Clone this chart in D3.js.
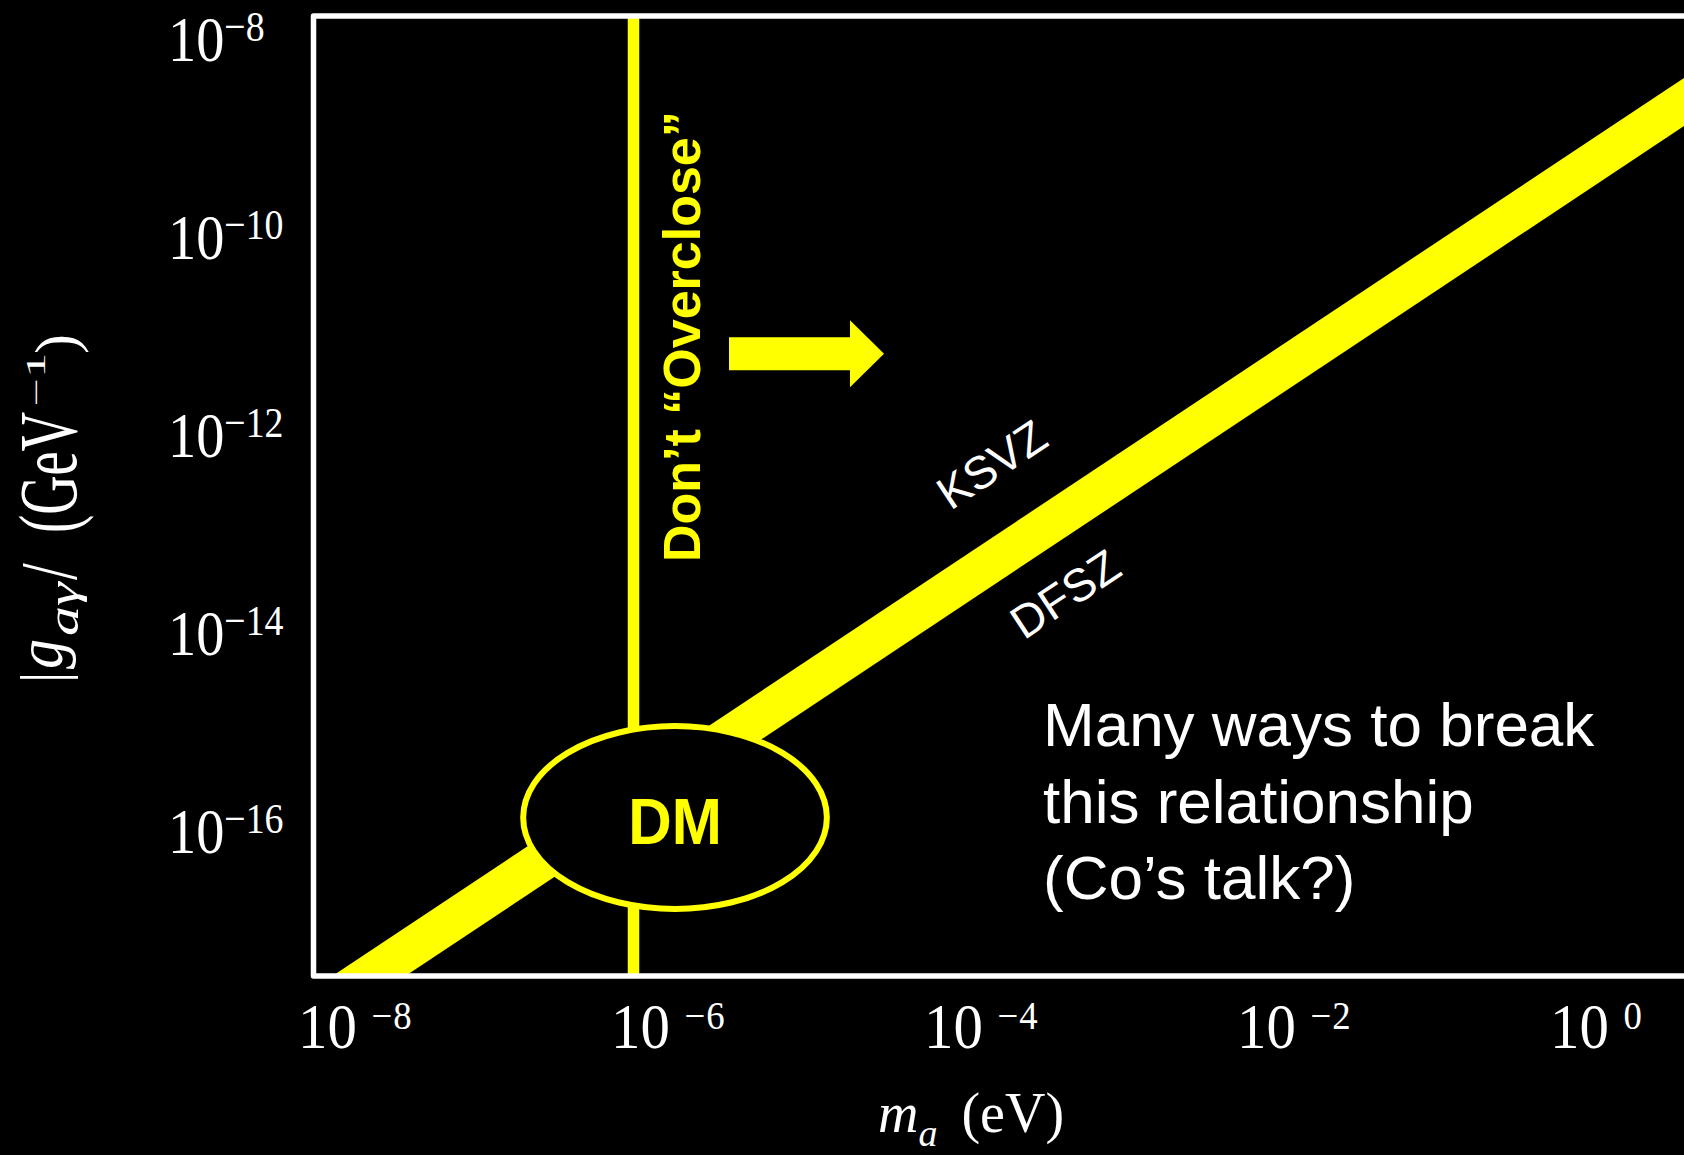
<!DOCTYPE html>
<html><head><meta charset="utf-8">
<script src="https://cdn.jsdelivr.net/npm/d3@7"></script>
<style>html,body{margin:0;padding:0;background:#000;} svg{display:block;}</style>
</head><body>
<svg id="chart" width="1684" height="1155"></svg>
<script>
// ---------------- data ----------------
const xTicks = [1e-8, 1e-6, 1e-4, 1e-2, 1];
const xTickLabels = ["\u22128", "\u22126", "\u22124", "\u22122", "0"];
const yTicks = [1e-8, 1e-10, 1e-12, 1e-14, 1e-16];
const yTickLabels = ["\u22128", "\u221210", "\u221212", "\u221214", "\u221216"];
const bandMass = [1e-9, 10];                 // eV
const ksvzCoupling = [4.45e-19, 1.42e-8];     // GeV^-1 (upper edge)
const dfszCoupling = [1.44e-19, 4.63e-9];     // GeV^-1 (lower edge)
const overcloseMass = [5.93e-7];              // eV
const dmMass = [1.17e-7, 1.02e-5];            // DM ellipse extent
const dmCoupling = [1.65e-17, 1.16e-15];
const modelNames = ["KSVZ", "DFSZ"];
const modelLabelMass = [1.15e-4, 3.39e-4];
const modelLabelCoupling = [5.15e-13, 2.54e-14];
const arrowCoupling = [6.7e-12];
const noteLines = ["Many ways to break", "this relationship", "(Co\u2019s talk?)"];

// ---------------- setup ----------------
const W = 1684, H = 1155;
const YELLOW = "#ffff00", WHITE = "#ffffff";
const SANS = "'Liberation Sans', Arial, Helvetica, sans-serif";
const SERIF = "'Liberation Serif', 'Times New Roman', Times, serif";
const svg = d3.select("#chart");
svg.append("rect").attr("width", W).attr("height", H).attr("fill", "#000");

const plot = {left: 313.5, top: 16, right: 1700, bottom: 976};
const x = d3.scaleLog().domain([5.35e-9, 3.87]).range([plot.left, plot.right]);
const y = d3.scaleLog().domain([3.47e-18, 1.726e-8]).range([plot.bottom, plot.top]);

svg.append("defs").append("clipPath").attr("id", "plotClip")
  .append("rect").attr("x", plot.left).attr("y", plot.top)
  .attr("width", plot.right - plot.left).attr("height", plot.bottom - plot.top);

const g = svg.append("g").attr("clip-path", "url(#plotClip)");

// axion band (KSVZ upper edge, DFSZ lower edge)
const bandPts = [
  [x(bandMass[0]), y(ksvzCoupling[0])],
  [x(bandMass[1]), y(ksvzCoupling[1])],
  [x(bandMass[1]), y(dfszCoupling[1])],
  [x(bandMass[0]), y(dfszCoupling[0])]
];
g.append("path").attr("d", d3.line()(bandPts) + "Z").attr("fill", YELLOW);

// overclosure line
const lx = x(overcloseMass[0]);
g.append("line").attr("x1", lx).attr("x2", lx)
  .attr("y1", plot.top).attr("y2", plot.bottom)
  .attr("stroke", YELLOW).attr("stroke-width", 11.5);

// DM ellipse
const ex0 = x(dmMass[0]), ex1 = x(dmMass[1]);
const ey0 = y(dmCoupling[1]), ey1 = y(dmCoupling[0]);
const ecx = (ex0 + ex1) / 2, ecy = (ey0 + ey1) / 2;
g.append("ellipse").attr("cx", ecx).attr("cy", ecy)
  .attr("rx", (ex1 - ex0) / 2).attr("ry", (ey1 - ey0) / 2)
  .attr("fill", "#000").attr("stroke", YELLOW).attr("stroke-width", 6);
svg.append("text").attr("transform", `translate(${ecx},${ecy + 26.5}) scale(0.94,1)`)
  .attr("text-anchor", "middle").attr("font-family", SANS).attr("font-weight", "bold")
  .attr("font-size", 64).attr("fill", YELLOW).text("DM");

// "Don't Overclose" text and arrow
svg.append("text").attr("transform", `translate(${lx + 66.5},562) rotate(-90)`)
  .attr("font-family", SANS).attr("font-weight", "bold").attr("font-size", 52)
  .attr("fill", YELLOW).text("Don\u2019t \u201cOverclose\u201d");
const ay = y(arrowCoupling[0]);
const a0 = lx + 95.5, ah = lx + 216.5, at = lx + 250.5;
svg.append("path").attr("fill", YELLOW).attr("d", d3.line()([
  [a0, ay - 16.5], [ah, ay - 16.5], [ah, ay - 33.5], [at, ay],
  [ah, ay + 33.5], [ah, ay + 16.5], [a0, ay + 16.5]]) + "Z");

// model labels along the band
const bandAngle = Math.atan2(bandPts[1][1] - bandPts[0][1], bandPts[1][0] - bandPts[0][0]) * 180 / Math.PI;
modelNames.forEach((name, i) => {
  svg.append("text")
    .attr("transform", `translate(${x(modelLabelMass[i])},${y(modelLabelCoupling[i])}) rotate(${bandAngle})`)
    .attr("y", 16.5).attr("text-anchor", "middle")
    .attr("font-family", SANS).attr("font-size", 46).attr("fill", WHITE).text(name);
});

// note text
const note = svg.append("text").attr("font-family", SANS).attr("font-size", 62).attr("fill", WHITE);
noteLines.forEach((line, i) => {
  note.append("tspan").attr("x", 1043).attr("y", 746 + i * 76.5).text(line);
});

// frame
svg.append("rect").attr("x", plot.left).attr("y", plot.top)
  .attr("width", plot.right - plot.left).attr("height", plot.bottom - plot.top)
  .attr("fill", "none").attr("stroke", WHITE).attr("stroke-width", 5.5)
  .attr("stroke-linejoin", "round");

// x tick labels
xTicks.forEach((t, i) => {
  const tx = svg.append("text")
    .attr("transform", `translate(${x(t) - 58},1048) scale(0.92,1)`)
    .attr("font-family", SERIF).attr("font-size", 64).attr("fill", WHITE);
  tx.append("tspan").text("10\u00a0");
  tx.append("tspan").attr("font-size", 40).attr("dy", -19).attr("letter-spacing", 1).text(xTickLabels[i]);
});

// y tick labels
yTicks.forEach((t, i) => {
  const ty = svg.append("text")
    .attr("transform", `translate(168,${y(t) + 21.5}) scale(0.88,1)`)
    .attr("font-family", SERIF).attr("font-size", 64).attr("fill", WHITE);
  ty.append("tspan").text("10");
  ty.append("tspan").attr("font-size", 43).attr("dy", -20).text(yTickLabels[i]);
});

// x axis title
const xt = svg.append("text").attr("x", 878).attr("y", 1132)
  .attr("font-family", SERIF).attr("font-size", 56).attr("fill", WHITE);
xt.append("tspan").attr("font-style", "italic").text("m");
xt.append("tspan").attr("font-style", "italic").attr("font-size", 38).attr("dy", 14).text("a");
xt.append("tspan").attr("dy", -14).attr("dx", 10).text(" (eV)");

// y axis title (rotated, pieces)
const yTitlePieces = [
  {t: "|", italic: false, s: 56, p: 1.15, bx: 64, start: 683},
  {t: "g", italic: true, s: 60, p: 1.1, bx: 62, start: 669},
  {t: "a\u03b3", italic: true, s: 60, p: 0.74, bx: 78, start: 636},
  {t: "/", italic: false, s: 60, p: 1.35, bx: 76, start: 580},
  {t: "(GeV", italic: false, s: 54.5, p: 1.5, bx: 76, start: 533},
  {t: "\u22121", italic: false, s: 50, p: 0.53, bx: 45, start: 406},
  {t: ")", italic: false, s: 60, p: 1.0, bx: 76, start: 354}
];
yTitlePieces.forEach(pc => {
  svg.append("text")
    .attr("transform", `translate(${pc.bx},${pc.start}) rotate(-90) scale(1,${pc.p})`)
    .attr("font-family", SERIF).attr("font-size", pc.s)
    .attr("font-style", pc.italic ? "italic" : "normal")
    .attr("fill", WHITE).text(pc.t);
});
</script>
</body></html>
